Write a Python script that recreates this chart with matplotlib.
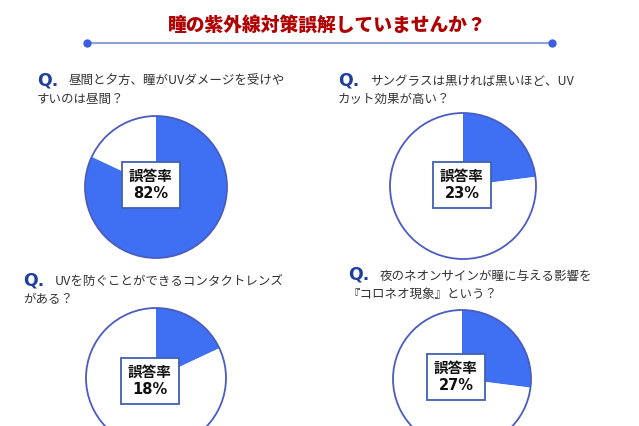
import matplotlib
matplotlib.use("Agg")
import matplotlib.pyplot as plt
from matplotlib.patches import Circle

plt.rcParams['font.family'] = ['Noto Sans CJK JP', 'DejaVu Sans']

title = "瞳の紫外線対策誤解していませんか？"
q_line1 = ["昼間と夕方、瞳がUVダメージを受けや",
           "サングラスは黒ければ黒いほど、UV",
           "UVを防ぐことができるコンタクトレンズ",
           "夜のネオンサインが瞳に与える影響を"]
q_line2 = ["すいのは昼間？",
           "カット効果が高い？",
           "がある？",
           "『コロネオ現象』という？"]
wrong_rates = [82, 23, 18, 27]
label = "誤答率"

# layout in pixels (x, y from top)
q_pos = [(37, 79), (338, 79), (23, 279), (348, 274)]
pie_pos = [(156, 187, 71), (463, 186, 73), (156, 378, 70), (462, 379, 69)]
box_pos = [(151, 185), (462, 185), (150, 381), (456, 377)]

W, H = 639, 426
blue = '#3f6ff2'
edge = '#4a5cc0'

fig = plt.figure(figsize=(6.39, 4.26), dpi=100)
ax = fig.add_axes([0, 0, 1, 1])

ax.text(327, H - 25, title, color='#b00000', fontsize=13.5, fontweight='heavy',
        ha='center', va='center')
ax.plot([87, 552], [H - 43, H - 43], color='#8ea2d8', lw=1.5)
ax.plot([87, 552], [H - 43, H - 43], 'o', color='#3a5fe0', ms=5)

for i in range(4):
    qx, qy = q_pos[i]
    base = H - qy - 6
    ax.text(qx, base, "Q.", color='#1f3f9f', fontsize=12.5, fontweight='bold',
            ha='left', va='baseline', family=['DejaVu Sans'])
    ax.text(qx + 32, base, q_line1[i], color='#333333', fontsize=9,
            ha='left', va='baseline')
    ax.text(qx, base - 18, q_line2[i], color='#333333', fontsize=9,
            ha='left', va='baseline')

    cx, cy, r = pie_pos[i]
    v = wrong_rates[i]
    ax.pie([v, 100 - v], colors=[blue, 'white'], startangle=90,
           counterclock=False, center=(cx, H - cy), radius=r, frame=True,
           wedgeprops=dict(linewidth=0))
    ax.add_patch(Circle((cx, H - cy), r, fill=False, ec=edge, lw=1.3))

    bx, by = box_pos[i]
    ax.text(bx, H - by, "%s\n%d%%" % (label, v), fontsize=10.5, fontweight='bold',
            ha='center', va='center', linespacing=1.2, color='#111111',
            family=['DejaVu Sans', 'Noto Sans CJK JP'],
            bbox=dict(boxstyle='square,pad=0.5', fc='white', ec='#4060b0', lw=1.3))

ax.set_xlim(0, W)
ax.set_ylim(0, H)
ax.set_aspect('auto')
ax.axis('off')

fig.savefig('out.png', dpi=100, facecolor='white')
